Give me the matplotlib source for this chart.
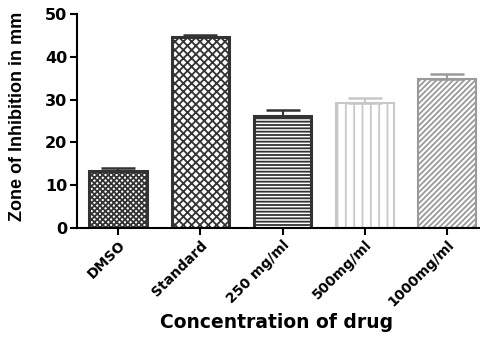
import matplotlib.pyplot as plt
import numpy as np

plt.rcParams["font.family"] = ["DejaVu Sans"]
plt.rcParams["hatch.linewidth"] = 1.3

# data
groups = ['DMSO', 'Standard', '250 mg/ml', '500mg/ml', '1000mg/ml']
means = [13.3, 44.6, 26.2, 29.2, 34.8]
upper_err = [0.7, 0.5, 1.3, 1.1, 1.1]

hatches = ['xxxxxx', 'xxxx', '-----', '||', '//////']
edge_colors = ['#333333', '#333333', '#333333', '#c8c8c8', '#9a9a9a']

fig = plt.figure(figsize=(4.81, 3.39), dpi=100)
ax = fig.add_axes([0.160, 0.327, 0.855, 0.632])

x = np.arange(len(groups))
for i in range(len(groups)):
    ax.bar(x[i], means[i], width=0.7, color='white', edgecolor=edge_colors[i],
           hatch=hatches[i], linewidth=2.2 if i < 3 else 1.5, zorder=2)
    ax.errorbar(x[i], means[i], yerr=[[0], [upper_err[i]]], color=edge_colors[i],
                capsize=12, capthick=1.8, elinewidth=1.5, zorder=3)

ax.set_xlim(-0.5, 4.5)
ax.set_ylim(0, 50)
ax.set_yticks([0, 10, 20, 30, 40, 50])
ax.set_xticks(x)
ax.set_xticklabels(groups, rotation=45, ha='right', rotation_mode='anchor',
                   fontsize=10, fontweight='bold')
for lab in ax.get_yticklabels():
    lab.set_fontsize(11.5)
    lab.set_fontweight('bold')

ax.spines['top'].set_visible(False)
ax.spines['right'].set_visible(False)
ax.spines['left'].set_linewidth(1.5)
ax.spines['bottom'].set_linewidth(1.5)
ax.tick_params(width=1.5, length=5, pad=2)

ax.set_ylabel('Zone of Inhibition in mm', fontsize=13, fontweight='bold',
              family=['Liberation Sans', 'DejaVu Sans'])
ax.yaxis.set_label_coords(-0.125, 0.52)
ax.set_xlabel('Concentration of drug', fontsize=13.5, fontweight='bold')
ax.xaxis.set_label_coords(0.485, -0.395)

fig.savefig('out.png', dpi=100)
